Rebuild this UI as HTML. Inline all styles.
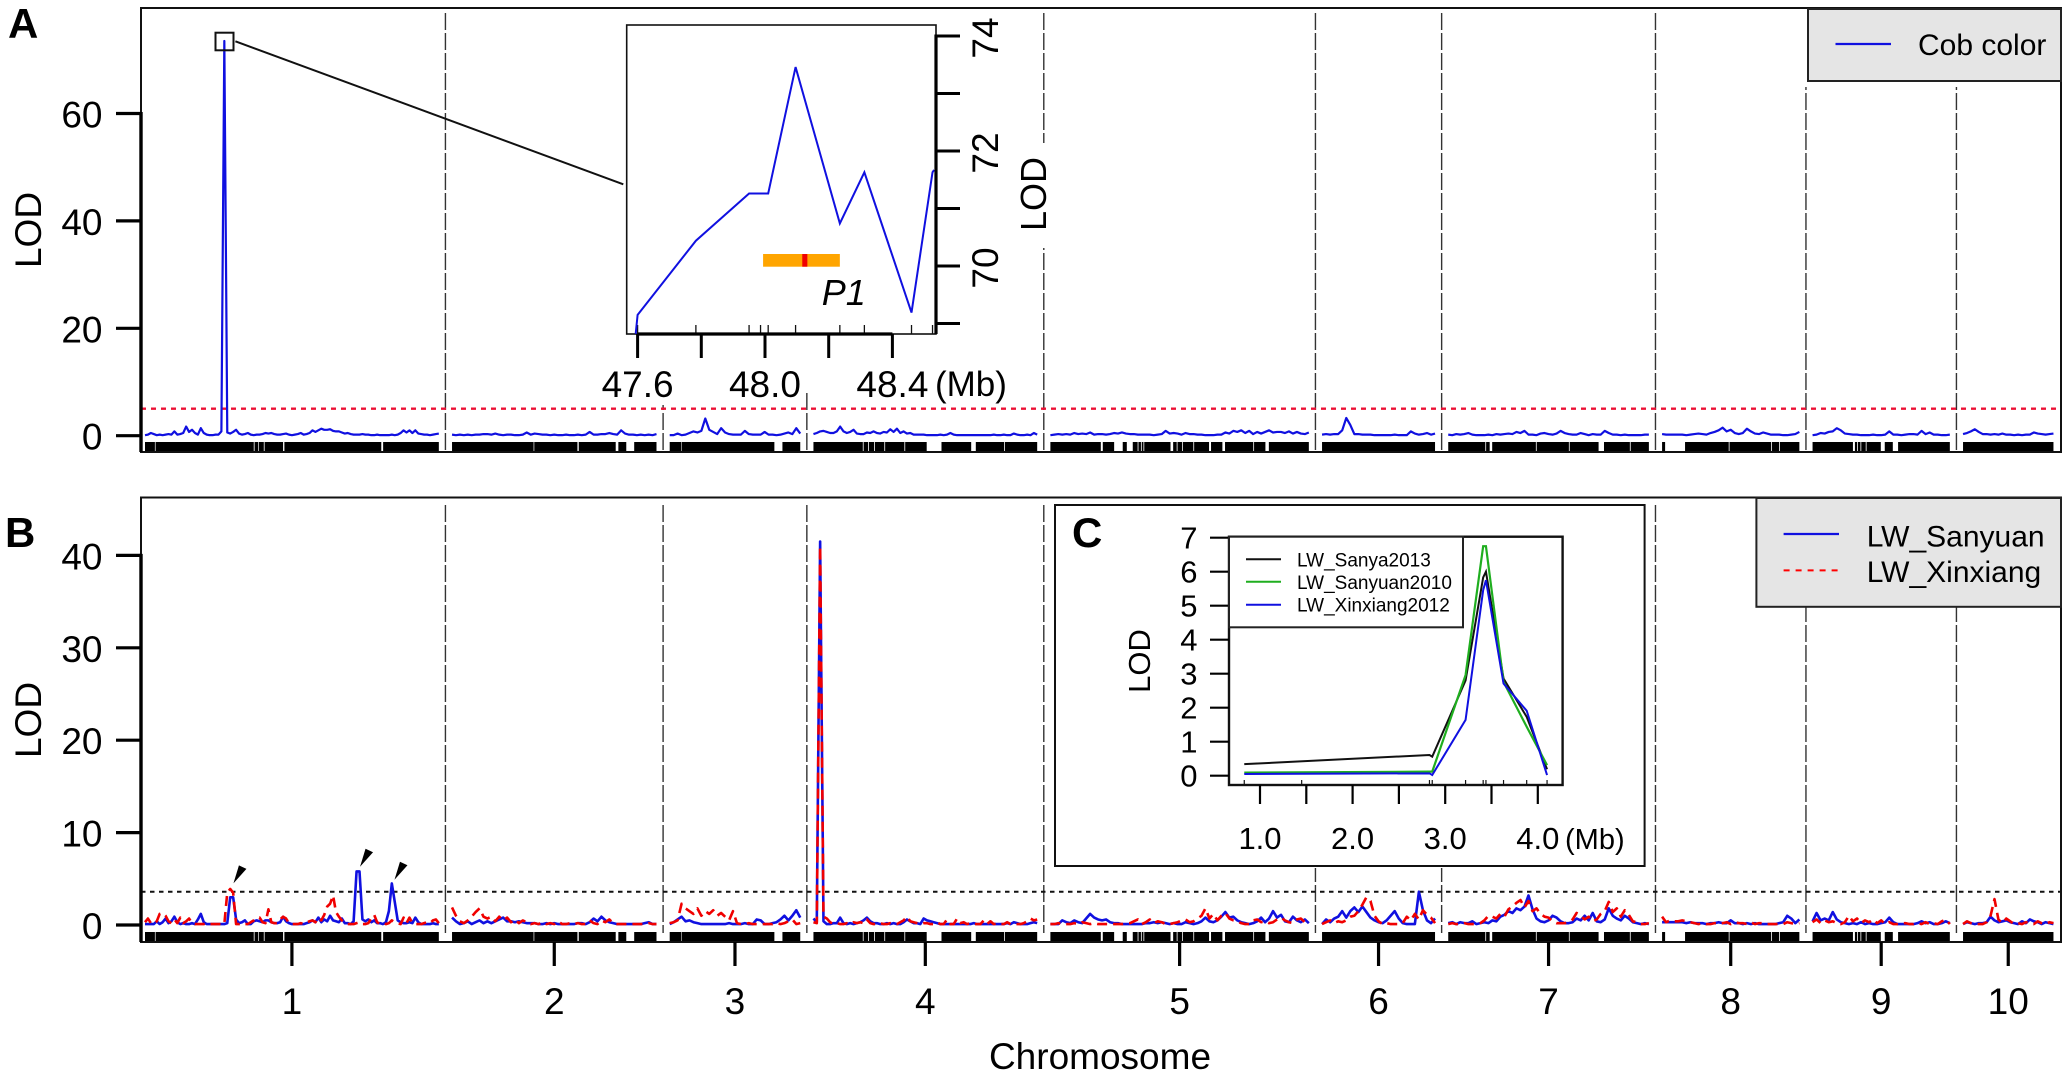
<!DOCTYPE html>
<html lang="en">
<head>
<meta charset="utf-8">
<title>QTL LOD scan</title>
<style>
html,body{margin:0;padding:0;background:#fff}
svg{display:block}
text{font-family:"Liberation Sans",sans-serif;fill:#000}
</style>
</head>
<body>
<svg id="chart" width="2071" height="1079" viewBox="0 0 2071 1079" xmlns="http://www.w3.org/2000/svg">
  <rect x="0" y="0" width="2071" height="1079" fill="#fff"/>

  <g id="panelA">
    <g id="aSeps"></g>
    <rect x="625" y="10" width="75" height="395" fill="#fff"/>
    <rect x="700" y="10" width="315" height="382" fill="#fff"/>
    <rect x="1015" y="143" width="32" height="105" fill="#fff"/>
    <rect x="1800" y="9" width="260" height="78" fill="#fff"/>
    <g id="aThreshold"></g>
    <g id="aRug"></g>
    <g id="aCurve"></g>
    <rect x="141" y="8" width="1920" height="444" fill="none" stroke="#111" stroke-width="2"/>
    <g id="aAxis"></g>
    <text x="8" y="38" font-size="42" font-weight="bold">A</text>
    <text transform="translate(41 230) rotate(-90)" text-anchor="middle" font-size="37">LOD</text>
    <rect x="215.5" y="32.7" width="18" height="17.6" fill="none" stroke="#111" stroke-width="2"/>
    <line x1="235.4" y1="41.3" x2="623.3" y2="184.3" stroke="#111" stroke-width="2"/>

    <g>
      <rect x="1808" y="9" width="253" height="72" fill="#e5e5e5" stroke="#222" stroke-width="2"/>
      <line x1="1835.5" y1="44" x2="1891" y2="44" stroke="#1010e0" stroke-width="2.2"/>
      <text x="1918" y="55" font-size="30">Cob color</text>
    </g>

    <g>
      <rect x="626.7" y="25" width="309.3" height="309" fill="#fff" stroke="#111" stroke-width="1.6"/>
      <g id="insetRug"></g>
      <g id="insetGene"></g>
      <g id="insetCurve"></g>
      <g id="insetAxes"></g>
      <text x="821.7" y="305" font-size="36" font-style="italic">P1</text>
      <text x="935" y="396" font-size="35">(Mb)</text>
      <text transform="translate(1046 194) rotate(-90)" text-anchor="middle" font-size="36">LOD</text>
    </g>
  </g>

  <g id="panelB">
    <g id="bSeps"></g>
    <rect x="1800" y="498" width="260" height="109" fill="#fff"/>
    <rect x="1052" y="503" width="596" height="365" fill="#fff"/>
    <g id="bThreshold"></g>
    <g id="bRug"></g>
    <g id="bBlue"></g>
    <g id="bRed"></g>
    <g id="bArrows"></g>
    <rect x="141" y="497.5" width="1920" height="444.5" fill="none" stroke="#111" stroke-width="2"/>
    <g id="bAxis"></g>
    <text x="5" y="547" font-size="42" font-weight="bold">B</text>
    <text transform="translate(41 720) rotate(-90)" text-anchor="middle" font-size="37">LOD</text>
    <text x="1100" y="1069" text-anchor="middle" font-size="37">Chromosome</text>

    <g>
      <rect x="1756.4" y="498" width="304.6" height="108.8" fill="#e5e5e5" stroke="#222" stroke-width="2"/>
      <line x1="1783.6" y1="534" x2="1839" y2="534" stroke="#1010e0" stroke-width="2.2"/>
      <text x="1866.7" y="546.3" font-size="30">LW_Sanyuan</text>
      <line x1="1783.6" y1="570.4" x2="1839" y2="570.4" stroke="#f00" stroke-width="2" stroke-dasharray="6 6"/>
      <text x="1866.7" y="582" font-size="30">LW_Xinxiang</text>
    </g>
  </g>

  <g id="panelC">
    <rect x="1055" y="505" width="589.6" height="361" fill="#fff" stroke="#111" stroke-width="2"/>
    <text x="1072" y="547" font-size="42" font-weight="bold">C</text>
    <text transform="translate(1150 661) rotate(-90)" text-anchor="middle" font-size="31">LOD</text>
    <g id="cRug"></g>
    <g id="cCurves"></g>
    <rect x="1229" y="536.7" width="333.6" height="248.3" fill="none" stroke="#111" stroke-width="2.4"/>
    <g id="cAxes"></g>
    <text x="1565" y="849" font-size="29">(Mb)</text>
    <g>
      <rect x="1229" y="536.7" width="234" height="90.6" fill="#fff" stroke="#222" stroke-width="2"/>
      <line x1="1246" y1="559.3" x2="1281" y2="559.3" stroke="#111" stroke-width="2"/>
      <text x="1297" y="566.7" font-size="19">LW_Sanya2013</text>
      <line x1="1246" y1="581.7" x2="1281" y2="581.7" stroke="#1fae1f" stroke-width="2"/>
      <text x="1297" y="589" font-size="19">LW_Sanyuan2010</text>
      <line x1="1246" y1="604.7" x2="1281" y2="604.7" stroke="#1010e0" stroke-width="2"/>
      <text x="1297" y="611.7" font-size="19">LW_Xinxiang2012</text>
    </g>
  </g>
</svg>

<script>
/* ---------- genome layout (cM) ---------- */
const chromosomeNames = ["1","2","3","4","5","6","7","8","9","10"];
const chromosomeLengths = [222.6,154.9,98.9,169.5,195.8,85.6,152,104,104,68.5];
const chromosomeGap = 10;

/* marker-free gaps per chromosome: [start, end] in cM */
const rugGaps1 = [[7.5,8],[82.4,83],[85.8,86.3],[90,90.6],[104.6,105.6],[179,180.4]];
const rugGaps2 = [[61.8,62.3],[95,96],[124,126],[132,138]];
const rugGaps3 = [[8.8,9.2],[79.3,85.4]];
const rugGaps4 = [[37.4,38],[41.4,42],[46,46.6],[53.7,54.3],[68.9,69.5],[85.8,97],[119.5,123],[144.4,145]];
const rugGaps5 = [[38.2,39.7],[48.3,54.8],[57.9,62.4],[66.1,66.7],[68.6,69.2],[70.5,71.1],[91,93],[95.7,96.3],[99.7,100.3],[108.3,108.9],[120.2,121.7],[130.3,132.3],[153.7,154.3],[162.9,165.5]];
const rugGaps6 = [];
const rugGaps7 = [[28.1,28.7],[31.4,33.3],[66.4,67],[91.4,92],[113.9,118],[137.6,138.2]];
const rugGaps8 = [[2.3,17.4],[50.5,51.1],[82.6,83.2],[88.6,89.2]];
const rugGaps9 = [[30.6,32.1],[33.8,34.4],[36.3,36.9],[40.3,40.9],[51.7,54.7],[60.8,64.8]];
const rugGaps10 = [];
const rugGaps = [rugGaps1,rugGaps2,rugGaps3,rugGaps4,rugGaps5,rugGaps6,rugGaps7,rugGaps8,rugGaps9,rugGaps10];

/* ---------- panel A: Cob color LOD, evenly spaced along each chromosome ---------- */
const cobChr1 = [
.1,.2,.5,.3,.1,.2,.1,.2,.3,.2,
.8,.2,.3,.5,1.7,.7,1.1,.5,.2,1.4,
.5,.2,.1,.1,.2,.2,.8,73.5,.6,.4,
.7,1.1,.4,.2,.3,.5,.2,.1,.2,.2,
.3,.5,.4,.5,.3,.2,.2,.3,.4,.2,
.1,.2,.3,.5,.2,.3,.5,1.0,.7,1.0,
1.3,1.1,1.1,1.2,.9,.8,.8,.6,.4,.5,
.3,.2,.2,.2,.3,.2,.2,.1,.1,.2,
.1,.1,.1,.1,.2,.1,.2,.5,1.0,.6,
1.0,.5,1.0,.4,.3,.2,.2,.1,.2,.3,
.4];
const cobChr2 = [
.2,.1,.2,.1,.2,.1,.2,.2,.3,.3,
.2,.4,.2,.1,.2,.2,.1,.1,.2,.6,
.2,.4,.3,.2,.2,.1,.2,.1,.1,.2,
.1,.1,.2,.1,.2,.7,.2,.2,.3,.3,
.5,.3,.2,1.0,.4,.2,.2,.1,.2,.1,
.2,.1,.3];
const cobChr3 = [
.1,.1,.4,.1,.2,.5,.8,.6,.9,3.2,
1.1,.7,.3,1.4,.6,.3,.2,.2,.2,.9,
.3,.2,.2,.2,.7,.2,.2,.1,.2,.4,
.6,.3,1.4,.4];
const cobChr4 = [
.3,.5,.8,.9,.7,.5,.5,.8,1.7,.8,
.5,.7,1.1,.4,.3,.3,.6,.5,.8,.5,
.4,.7,.6,1.2,.7,1.3,.5,.8,.4,.5,
.2,.2,.2,.2,.1,.1,.1,.1,.2,.1,
.2,.5,.2,.1,.1,.1,.1,.1,.1,.1,
.1,.1,.1,.1,.2,.1,.1,.2,.1,.1,
.4,.2,.1,.1,.2,.1,.5,.2];
const cobChr5 = [
.1,.2,.3,.2,.3,.2,.5,.3,.4,.3,
.6,.2,.3,.3,.2,.3,.5,.4,.6,.4,
.3,.3,.2,.2,.2,.2,.1,.2,.3,.9,
.4,.5,.4,.2,.5,.3,.3,.2,.2,.1,
.1,.1,.2,.2,.6,.4,.9,.7,1.0,.5,
.9,.3,.7,.4,.7,1.0,.6,.7,.7,.5,
.8,.4,.7,.4,.3,.6];
const cobChr6 = [
.2,.3,.2,.3,.3,1.0,3.3,2.0,.3,.3,
.2,.2,.2,.1,.1,.1,.1,.1,.2,.1,
.1,.1,.8,.4,.2,.3,.5,.2,.4];
const cobChr7 = [
.2,.1,.3,.2,.3,.5,.2,.1,.1,.1,
.2,.1,.3,.2,.3,.4,.3,.7,.5,.9,
.2,.2,.1,.4,.5,.3,.2,.4,.9,.5,
.3,.2,.2,.5,.3,.1,.3,.2,.2,.9,
.5,.2,.2,.1,.2,.1,.1,.1,.1,.2,
.2];
const cobChr8 = [
.3,.2,.2,.2,.2,.2,.1,.2,.3,.4,
.3,.2,.5,.7,1.0,1.5,.8,1.1,.5,.3,
.5,1.3,.8,.4,.3,.6,.4,.2,.2,.2,
.1,.1,.2,.3,.7];
const cobChr9 = [
.1,.2,.5,.4,.7,.8,1.4,1.0,.4,.3,
.2,.2,.1,.1,.1,.2,.1,.1,.2,.8,
.2,.2,.1,.2,.3,.3,.2,.9,.3,.6,
.2,.2,.1,.1,.2];
const cobChr10 = [
.3,.5,.8,1.2,.7,.3,.3,.2,.3,.2,
.4,.2,.2,.1,.2,.1,.2,.2,.6,.4,
.3,.2,.3,.4];
const cobColorSeries = [cobChr1,cobChr2,cobChr3,cobChr4,cobChr5,cobChr6,cobChr7,cobChr8,cobChr9,cobChr10];

/* ---------- panel B: LW_Sanyuan ---------- */
const sanyuanChr1 = [
.1,.1,.1,.1,.4,.1,.3,.7,.2,.4,
.9,.3,.1,.2,.1,.1,.2,.1,.6,1.2,
.3,.1,.1,.1,.1,.1,.1,.1,.2,3.0,
3.0,.6,.2,.3,.5,.1,.1,.4,.5,.4,
.3,.5,.5,.3,.2,.2,.3,.9,.4,.2,
.1,.1,.1,.1,.1,.2,.3,.5,.3,.8,
.3,.6,.4,1.0,.5,.4,.3,.7,.2,.2,
.1,.4,5.8,5.8,.6,.4,.6,.3,.5,.2,
.2,.1,.3,1.5,4.5,2.5,.5,.3,.2,.2,
.3,.2,.8,.3,.1,.1,.1,.1,.2,.1,
.1];
const sanyuanChr2 = [
.8,.4,.1,.2,.4,.1,.3,.5,.2,.4,
.2,.4,.6,.8,.4,.4,.3,.4,.3,.2,
.2,.2,.1,.1,.2,.1,.2,.1,.1,.1,
.1,.1,.2,.2,.1,.3,.7,.4,.9,.5,
.3,.2,.1,.1,.1,.1,.1,.1,.1,.2,
.3,.1,.1];
const sanyuanChr3 = [
.1,.3,.6,.9,.4,.5,.3,.2,.1,.1,
.1,.1,.1,.1,.1,.2,.1,.1,.1,.2,
.1,.1,.6,.5,.1,.1,.2,.3,.6,1.0,
.5,1.0,1.6,.8];
const sanyuanChr4 = [
.7,.3,41.5,.4,.1,.1,.2,.2,.8,.2,
.1,.2,.1,.2,.3,.5,.8,.4,.2,.2,
.1,.1,.2,.1,.2,.1,.1,.3,.6,.4,
.2,.2,.1,.7,.5,.4,.3,.2,.1,.1,
.1,.1,.1,.1,.1,.1,.1,.1,.2,.1,
.1,.1,.1,.1,.1,.1,.1,.1,.2,.1,
.3,.2,.1,.1,.1,.2,.3,.2];
const sanyuanChr5 = [
.1,.1,.1,.5,.3,.2,.5,.3,.2,.7,
1.2,.8,.6,.5,.6,.3,.2,.2,.1,.1,
.1,.1,.1,.1,.2,.2,.3,.2,.3,.2,
.1,.2,.1,.1,.3,.2,.1,.2,.4,.8,
.4,.3,.5,.9,1.4,.8,.9,.5,.3,.2,
.1,.2,.4,.8,.3,.7,1.5,.8,1.1,.4,
.3,.9,.5,.3,.6,.2];
const sanyuanChr6 = [
.1,.6,.3,.7,.9,1.5,.8,1.5,1.9,1.4,
2.0,1.4,.8,.5,.3,.2,.5,1.0,1.5,.7,
.2,.1,.1,.1,3.6,1.6,.5,.2,.7];
const sanyuanChr7 = [
.2,.3,.1,.3,.2,.2,.4,.1,.2,.3,
.2,.5,.4,.9,1.1,1.5,1.3,1.8,1.6,2.0,
3.2,1.7,.7,.4,.3,.5,1.0,.8,.4,.2,
.2,.3,.7,.5,1.0,.5,1.3,.4,.3,.6,
1.8,1.0,.7,.5,1.0,.7,.3,.2,.1,.2,
.1];
const sanyuanChr8 = [
.3,.3,.3,.3,.3,.3,.2,.3,.2,.2,
.2,.1,.2,.2,.3,.2,.2,.5,.2,.2,
.1,.2,.1,.2,.1,.1,.1,.1,.1,.2,
.3,1.0,.7,.2,.6];
const sanyuanChr9 = [
.4,1.3,.5,.7,.5,1.4,.6,.3,.2,.1,
.2,.1,.3,.1,.2,.1,.1,.2,.3,.8,
.3,.1,.1,.1,.1,.1,.2,.4,.2,.3,
.1,.1,.2,.4,.2];
const sanyuanChr10 = [
.1,.3,.2,.1,.2,.2,.3,.9,.5,.3,
.4,.5,.3,.2,.1,.4,.2,.6,.4,.3,
.1,.3,.2,.1];
const lwSanyuanSeries = [sanyuanChr1,sanyuanChr2,sanyuanChr3,sanyuanChr4,sanyuanChr5,sanyuanChr6,sanyuanChr7,sanyuanChr8,sanyuanChr9,sanyuanChr10];

/* ---------- panel B: LW_Xinxiang ---------- */
const xinxiangChr1 = [
.3,.7,.2,.1,.4,1.2,1.3,1.0,.4,.2,
.6,.2,.8,.2,.4,.7,.2,.1,.1,.1,
.1,.2,.1,.1,.1,.1,.1,.1,3.5,3.9,
3.5,.1,.1,.2,.1,.1,.3,.5,.8,.8,
.3,.2,1.7,.3,.2,.2,.6,.9,.7,.2,
.1,.1,.1,.2,.1,.3,.4,.5,.3,.8,
.5,1.1,2.0,2.3,3.2,1.4,.9,.5,.2,.1,
.1,.1,.2,.3,.1,.1,.2,.7,1.1,.3,
.1,.2,.1,.2,.5,.3,.2,.1,.8,.2,
.8,.2,.1,.1,.1,.2,.3,.2,.5,.6,
.2];
const xinxiangChr2 = [
1.9,1.0,.4,.2,.5,.9,1.4,1.8,.9,.7,
.9,.4,.9,.5,.8,.3,.6,.2,.5,.3,
.1,.2,.1,.3,.1,.2,.1,.4,.1,.1,
.2,.1,.2,.1,.1,.5,.2,.1,.5,.3,
.6,.2,.1,.1,.1,.1,.1,.1,.1,.1,
.2,.1,.1];
const xinxiangChr3 = [
.2,.3,.5,2.3,1.8,1.5,1.2,1.8,1.0,1.5,
1.2,1.6,1.0,1.3,.9,.5,1.5,.2,.1,.1,
.2,.1,.1,.1,.1,.1,.1,.2,.1,.2,
.4,.6,.1,.2];
const xinxiangChr4 = [
.3,.2,41.0,.9,.7,.3,.1,.2,.1,.1,
.2,.1,.3,.2,.3,.2,.6,.2,.1,.1,
.2,.1,.1,.2,.1,.1,.3,.5,.9,.4,
.3,.2,.1,.2,.2,.1,.1,.3,.1,.1,
.6,.1,.1,.7,.2,.3,.1,.2,.1,.1,
.1,.5,.1,.4,.1,.2,.1,.1,.3,.1,
.1,.1,.1,.2,.4,.7,.5,.6];
const xinxiangChr5 = [
.1,.1,.2,.1,.1,.1,.2,.1,.3,.2,
.1,.2,.1,.1,.1,.1,.1,.1,.1,.2,
.2,.4,.6,.1,.3,.6,.2,.4,.3,.1,
.1,.2,.3,.5,.6,.3,.4,.7,1.0,1.8,
.7,1.2,.5,1.0,1.3,.7,.5,.4,.2,.1,
.1,.5,.6,.3,.4,.2,.3,.6,.8,.5,
.3,.2,.6,.7,.3,.4];
const xinxiangChr6 = [
.1,.3,.5,.2,.4,.3,.5,.9,1.0,1.5,
2.2,3.0,2.6,1.0,.4,.1,.2,.1,.1,.1,
.2,.9,.5,1.2,.6,1.6,1.1,.8,.2];
const xinxiangChr7 = [
.1,.2,.1,.1,.2,.1,.1,.1,.2,.5,
1.0,.9,.7,1.2,.9,1.7,2.0,2.4,2.7,1.9,
2.6,1.5,1.8,1.2,.9,.8,.4,.2,.2,.2,
.3,.6,1.3,1.0,.6,.9,.4,.6,1.2,1.5,
2.5,1.4,1.8,.9,1.6,1.1,.4,.3,.1,.1,
.2];
const xinxiangChr8 = [
.9,.3,.5,.4,.4,.5,.4,.3,.2,.1,
.2,.1,.1,.2,.1,.2,.3,.1,.3,.2,
.2,.1,.3,.1,.2,.2,.1,.1,.1,.1,
.1,.3,.2,.1,.2];
const xinxiangChr9 = [
.3,.6,.2,.5,.3,.4,.2,.1,.3,1.0,
.4,.7,.2,.5,.3,.6,.2,.5,.1,.3,
.1,.1,.2,.2,.1,.1,.2,.1,.3,.1,
.2,.1,.4,.6,.1];
const xinxiangChr10 = [
.1,.4,.2,.1,.1,.1,.3,1.0,2.8,.6,
.2,.7,.4,.1,.2,.1,.3,.2,.1,.4,
.2,.1,.3,.2];
const lwXinxiangSeries = [xinxiangChr1,xinxiangChr2,xinxiangChr3,xinxiangChr4,xinxiangChr5,xinxiangChr6,xinxiangChr7,xinxiangChr8,xinxiangChr9,xinxiangChr10];

/* thresholds and ticks */
const thresholdA = 5.03;
const thresholdB = 3.6;
const yTicksA = [0,20,40,60];
const yTicksB = [0,10,20,30,40];

/* arrows on chromosome 1: position (cM) and tip LOD */
const arrowPositions = [67,162.9,189];
const arrowTipLods = [4.5,6.3,4.9];

/* zoom inset of panel A */
const insetMb = [47.594,47.6,47.783,47.95,48.01,48.096,48.235,48.312,48.46,48.526,48.531];
const insetLod = [68.82,69.15,70.44,71.26,71.26,73.46,70.74,71.63,69.19,71.63,71.67];
const insetMarkerMb = [47.6,47.783,47.95,47.986,48.01,48.096,48.235,48.312,48.46,48.526];
const insetXTicks = [47.6,47.8,48.0,48.2,48.4];
const insetXLabels = ["47.6","48.0","48.4"];
const insetXLabelValues = [47.6,48.0,48.4];
const insetYTicks = [69,70,71,72,73,74];
const insetYLabelValues = [70,72,74];
const geneStartMb = 47.994;
const geneEndMb = 48.235;
const geneMarkMb = [48.117,48.133];

/* panel C */
const cMb = [0.83,2.83,2.86,3.22,3.41,3.44,3.63,3.88,4.10];
const cSanya2013 = [0.34,0.61,0.56,2.80,5.83,6.00,2.86,1.73,0.19];
const cSanyuan2010 = [0.09,0.12,0.12,2.96,6.75,6.75,2.76,1.44,0.31];
const cXinxiang2012 = [0.05,0.07,0.02,1.64,5.46,5.75,2.71,1.91,0.02];
const cMarkerMb = [0.83,1.45,2.83,2.86,3.22,3.41,3.44,3.63,3.88,4.10];
const cXTicks = [1,1.5,2,2.5,3,3.5,4];
const cXLabelValues = [1,2,3,4];
const cXLabels = ["1.0","2.0","3.0","4.0"];
const cYTicks = [0,1,2,3,4,5,6,7];

/* ---------- axis functions ---------- */
const pxPerCm = 1.32, firstChrX = 145;
function chrOffset(c){let s=0;for(let i=0;i<c;i++)s+=chromosomeLengths[i]+chromosomeGap;return s;}
function xGenome(c,cm){return firstChrX+(chrOffset(c)+cm)*pxPerCm;}
function yA(v){return 435.7-v*5.37;}
function yB(v){return 925-v*9.24;}
function xInset(mb){return 765+(mb-48)*318.5;}
function yInset(v){return 266-(v-70)*57.5;}
function xC(mb){return 1260+(mb-1)*92.6;}
function yC(v){return 775.7-v*34;}

const NS="http://www.w3.org/2000/svg";
function make(tag,attrs,parent,txt){
  const el=document.createElementNS(NS,tag);
  for(const k in attrs)el.setAttribute(k,attrs[k]);
  if(txt!==undefined)el.textContent=txt;
  document.getElementById(parent).appendChild(el);
  return el;
}
function pathFrom(xs,ys){return xs.map((x,i)=>(i?"L":"M")+x.toFixed(2)+" "+ys[i].toFixed(2)).join("");}

/* separators */
function drawSeparators(group,top,bottom){
  for(let c=1;c<chromosomeLengths.length;c++){
    const x=xGenome(c,-chromosomeGap/2);
    const el=make("line",{x1:x,x2:x,y1:top,y2:bottom,stroke:"#333","stroke-width":1.4,"stroke-dasharray":"17 3"},group);
    
    
  }
}
drawSeparators("aSeps",13,450);
drawSeparators("bSeps",505,933);

/* rug */
function drawRug(group,top,bottom){
  chromosomeLengths.forEach((len,c)=>{
    const bar=make("rect",{x:xGenome(c,0),y:top,width:len*pxPerCm,height:bottom-top,fill:"#000"},group);
    
    
    rugGaps[c].forEach(g=>{
      const gap=make("rect",{x:xGenome(c,g[0]),y:top,width:(g[1]-g[0])*pxPerCm,height:bottom-top,fill:"#fff"},group);
      
      
    });
  });
}
drawRug("aRug",442,451);
drawRug("bRug",932,941);

/* genome-wide curves */
function drawGenomeCurves(series,group,yFn,stroke,width,dash,name){
  series.forEach((vals,c)=>{
    const len=chromosomeLengths[c];
    const xs=vals.map((v,i)=>xGenome(c,len*i/(vals.length-1)));
    const ys=vals.map(v=>yFn(v));
    const attrs={d:pathFrom(xs,ys),fill:"none",stroke:stroke,"stroke-width":width,"stroke-linejoin":"round"};
    if(dash)attrs["stroke-dasharray"]=dash;
    const p=make("path",attrs,group);
    
    
  });
}
drawGenomeCurves(cobColorSeries,"aCurve",yA,"#1010e0",2.2,null,"cob-color-line");
drawGenomeCurves(lwSanyuanSeries,"bBlue",yB,"#1010e0",2.6,null,"lw-sanyuan-line");
drawGenomeCurves(lwXinxiangSeries,"bRed",yB,"#f00000",2.6,"10 6","lw-xinxiang-line");

/* thresholds */
const tA=make("line",{x1:141,x2:2061,y1:yA(thresholdA),y2:yA(thresholdA),stroke:"#ec1034","stroke-width":2.4,"stroke-dasharray":"5 5"},"aThreshold");


const tB=make("line",{x1:141,x2:2061,y1:yB(thresholdB),y2:yB(thresholdB),stroke:"#111","stroke-width":2,"stroke-dasharray":"4.5 4.5"},"bThreshold");



/* y axes */
function drawYAxis(group,ticks,yFn,bottom){
  const top=yFn(ticks[ticks.length-1]);
  const ax=make("line",{x1:141,x2:141,y1:top-1.5,y2:bottom,stroke:"#000","stroke-width":3.4},group);
  
  
  ticks.forEach(t=>{
    const y=yFn(t);
    const m=make("line",{x1:116,x2:141,y1:y,y2:y,stroke:"#000","stroke-width":3.2},group);
    
    
    const l=make("text",{x:102.5,y:y+14,"text-anchor":"end","font-size":37},group,String(t));
    
    
  });
}
drawYAxis("aAxis",yTicksA,yA,452);
drawYAxis("bAxis",yTicksB,yB,942);

/* chromosome ticks */
chromosomeNames.forEach((n,c)=>{
  const x=xGenome(c,chromosomeLengths[c]/2);
  const m=make("line",{x1:x,x2:x,y1:942,y2:966,stroke:"#000","stroke-width":3.2},"bAxis");
  
  
  const l=make("text",{x:x,y:1014,"text-anchor":"middle","font-size":37},"bAxis",n);
  
  
});

/* arrows */
arrowPositions.forEach((cm,i)=>{
  const tx=xGenome(0,cm), ty=yB(arrowTipLods[i]);
  const a=make("polygon",{points:[tx,ty,tx+5.5,ty-18,tx+13,ty-14.5].join(" "),fill:"#000"},"bArrows");
  
  
});

/* zoom inset */
const gene=make("rect",{x:xInset(geneStartMb),y:254,width:xInset(geneEndMb)-xInset(geneStartMb),height:12.7,fill:"#ffa500"},"insetGene");


const geneMark=make("rect",{x:xInset(geneMarkMb[0]),y:254,width:xInset(geneMarkMb[1])-xInset(geneMarkMb[0]),height:12.7,fill:"#f00000"},"insetGene");


const insetLine=make("path",{d:pathFrom(insetMb.map(xInset),insetLod.map(yInset)),fill:"none",stroke:"#1010e0","stroke-width":2,"stroke-linejoin":"miter"},"insetCurve");


insetMarkerMb.forEach(mb=>{
  const x=xInset(mb);
  const t=make("line",{x1:x,x2:x,y1:325,y2:334,stroke:"#111","stroke-width":1.3},"insetRug");
  
  
});
const insetXLine=make("line",{x1:xInset(insetXTicks[0]),x2:xInset(insetXTicks[insetXTicks.length-1]),y1:334,y2:334,stroke:"#000","stroke-width":3.2},"insetAxes");


insetXTicks.forEach(mb=>{
  const x=xInset(mb);
  const t=make("line",{x1:x,x2:x,y1:334,y2:358,stroke:"#000","stroke-width":3},"insetAxes");
  
  
});
insetXLabelValues.forEach((mb,i)=>{
  const l=make("text",{x:xInset(mb),y:397,"text-anchor":"middle","font-size":37},"insetAxes",insetXLabels[i]);
  
  
});
const insetYLine=make("line",{x1:936,x2:936,y1:yInset(74)-1.5,y2:334,stroke:"#000","stroke-width":3.2},"insetAxes");


insetYTicks.forEach(v=>{
  const y=yInset(v);
  const t=make("line",{x1:936,x2:960,y1:y,y2:y,stroke:"#000","stroke-width":3},"insetAxes");
  
  
});
insetYLabelValues.forEach(v=>{
  const y=yInset(v)+2;
  const l=make("text",{transform:"translate(998 "+y+") rotate(-90)","text-anchor":"middle","font-size":37},"insetAxes",String(v));
  
  
});

/* panel C */
cMarkerMb.forEach(mb=>{
  const x=xC(mb);
  const t=make("line",{x1:x,x2:x,y1:780,y2:785,stroke:"#111","stroke-width":1.2},"cRug");
  
  
});
const cBlack=make("path",{d:pathFrom(cMb.map(xC),cSanya2013.map(yC)),fill:"none",stroke:"#111","stroke-width":2},"cCurves");


const cGreen=make("path",{d:pathFrom(cMb.map(xC),cSanyuan2010.map(yC)),fill:"none",stroke:"#1fae1f","stroke-width":2.2},"cCurves");


const cBlue=make("path",{d:pathFrom(cMb.map(xC),cXinxiang2012.map(yC)),fill:"none",stroke:"#1010e0","stroke-width":2},"cCurves");


cYTicks.forEach(v=>{
  const y=yC(v);
  const t=make("line",{x1:1210,x2:1229,y1:y,y2:y,stroke:"#000","stroke-width":2.2},"cAxes");
  
  
  const l=make("text",{x:1197.5,y:y+11,"text-anchor":"end","font-size":31},"cAxes",String(v));
  
  
});
cXTicks.forEach(mb=>{
  const x=xC(mb);
  const t=make("line",{x1:x,x2:x,y1:785,y2:804,stroke:"#000","stroke-width":2.2},"cAxes");
  
  
});
cXLabelValues.forEach((mb,i)=>{
  const l=make("text",{x:xC(mb),y:849,"text-anchor":"middle","font-size":31},"cAxes",cXLabels[i]);
  
  
});
</script>
</body>
</html>
